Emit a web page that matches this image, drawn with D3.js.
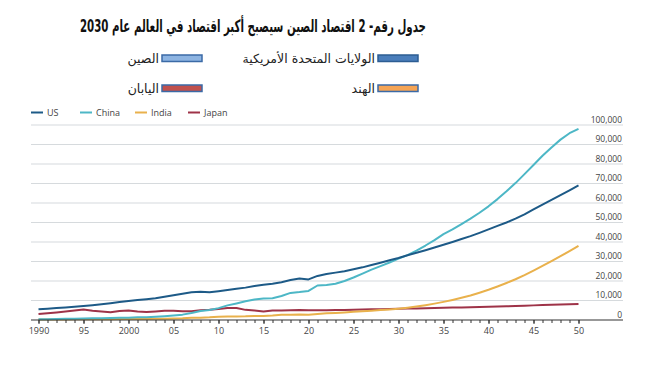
<!DOCTYPE html>
<html><head><meta charset="utf-8">
<script src="https://cdn.jsdelivr.net/npm/d3@7"></script>
<style>body{margin:0;background:#fff}svg{display:block}</style>
</head><body>
<svg id="c" width="655" height="368"></svg>
<script>
const years = d3.range(1990, 2051);
const us = [5500,5800,6100,6400,6800,7200,7600,8100,8600,9200,9800,10200,10600,11100,11900,12700,13500,14200,14500,14200,14800,15400,16000,16600,17400,18100,18600,19400,20500,21300,20800,22600,23600,24300,25000,26000,27000,28200,29400,30600,31800,33200,34500,35800,37200,38600,40000,41500,43000,44700,46500,48300,50000,52000,54200,56700,59200,61600,64000,66500,69000];
const china = [400,400,500,600,600,750,850,950,1000,1100,1200,1350,1450,1650,1950,2300,2750,3550,4600,5100,6100,7500,8500,9600,10500,11000,11200,12300,13900,14300,14900,17700,18000,18600,20000,21800,23800,25800,27600,29500,31500,33300,35600,38200,41000,44000,46500,49200,52000,55000,58300,62000,66000,70200,74800,79500,84200,88500,92500,95800,98000];
const india = [300,280,290,280,330,360,390,410,420,450,470,490,510,600,700,820,940,1200,1200,1350,1650,1800,1830,1860,2030,2100,2300,2650,2700,2850,2700,3100,3400,3600,3900,4200,4500,4800,5100,5400,5800,6300,6900,7600,8400,9300,10300,11400,12600,14000,15500,17200,19000,20900,23000,25300,27700,30200,32700,35300,38000];
const japan = [3100,3500,3900,4400,4900,5400,4800,4400,4000,4600,4900,4300,4100,4400,4800,4750,4500,4500,5000,5200,5700,6200,6200,5200,4900,4400,4900,4900,5000,5100,5000,5000,5050,5100,5150,5250,5350,5450,5550,5650,5750,5850,5950,6050,6150,6250,6350,6450,6550,6650,6750,6900,7050,7200,7350,7500,7650,7800,7950,8100,8250];
const seriesNames = ["US","China","India","Japan"];
const seriesColors = ["#1d5a87","#4db7c6","#e9b14c","#9e3348"];
const yTicks = [0,10000,20000,30000,40000,50000,60000,70000,80000,90000,100000];
const xTickYears = [1990,1995,2000,2005,2010,2015,2020,2025,2030,2035,2040,2045,2050];
const xTickLabels = ["1990","95","2000","05","10","15","20","25","30","35","40","45","50"];
const titleText = "جدول رقم- 2 اقتصاد الصين سيصبح أكبر اقتصاد في العالم عام 2030";
const arLegend = [
  {name:"الولايات المتحدة الأمريكية", fill:"#4a7ebb", stroke:"#2c5d93", col:1, row:0},
  {name:"الصين", fill:"#8db4e2", stroke:"#3b6aa6", col:0, row:0},
  {name:"الهند", fill:"#f5a455", stroke:"#3b6aa6", col:1, row:1},
  {name:"اليابان", fill:"#c0504d", stroke:"#3b6aa6", col:0, row:1}
];

const svg = d3.select("#c");
const x = d3.scaleLinear().domain([1990,2050]).range([38.5,578.5]);
const y = d3.scaleLinear().domain([0,100000]).range([320,125]);

// title
svg.append("text").attr("x",80).attr("y",32).attr("text-anchor","start")
  .attr("textLength",346).attr("lengthAdjust","spacingAndGlyphs")
  .style("font-family","'DejaVu Sans', sans-serif").style("font-weight","bold")
  .style("font-size","17px").attr("fill","#111")
  .text("\u202B" + titleText + "\u202C");

// Arabic legend
const colX = [202, 418];
const rowY = [55, 85];
arLegend.forEach(d=>{
  const bx = colX[d.col];
  svg.append("rect").attr("x",bx-40).attr("y",rowY[d.row]).attr("width",40).attr("height",6.5)
    .attr("fill",d.fill).attr("stroke",d.stroke).attr("stroke-width",1.5);
  svg.append("text").attr("x",bx-43).attr("y",rowY[d.row]+8).attr("text-anchor","end")
    .style("font-family","'DejaVu Sans', sans-serif").style("font-size","12.5px").attr("fill","#222")
    .text(d.name);
});

// English legend
const legX = [31,80,135,188];
seriesNames.forEach((n,i)=>{
  svg.append("line").attr("x1",legX[i]).attr("x2",legX[i]+12).attr("y1",112.5).attr("y2",112.5)
    .attr("stroke",seriesColors[i]).attr("stroke-width",2);
  svg.append("text").attr("x",legX[i]+16).attr("y",115.5)
    .style("font-family","'Open Sans', sans-serif").style("font-size","9px").attr("fill","#444").text(n);
});

// grid
const yAxis = d3.axisRight(y).tickValues(yTicks).tickSize(0).tickFormat(d3.format(","));
const gy = svg.append("g").attr("transform","translate(622,0)").call(yAxis);
gy.select(".domain").remove();
gy.selectAll("text").attr("x",0).attr("dy","-0.35em").attr("text-anchor","end")
  .style("font-family","'Open Sans', sans-serif").style("font-size","8.5px").attr("fill","#444");
svg.insert("g",":first-child").selectAll("line").data(yTicks.filter(v=>v>0)).join("line")
  .attr("x1",31).attr("x2",623).attr("y1",d=>y(d)).attr("y2",d=>y(d))
  .attr("stroke","#d6dadd").attr("stroke-width",1.2);

// lines
const allSeries = [us, china, india, japan];
const line = d3.line().x((d,i)=>x(years[i])).y(d=>y(d));
[3,2,1,0].forEach(k=>{
  svg.append("path").datum(allSeries[k]).attr("d",line).attr("fill","none")
    .attr("stroke",seriesColors[k]).attr("stroke-width",2).attr("stroke-linejoin","round");
});

// x axis
const xMinor = d3.axisBottom(x).tickValues(years).tickSize(3).tickFormat("");
const gx1 = svg.append("g").attr("transform","translate(0,320)").call(xMinor);
gx1.select(".domain").remove();
gx1.selectAll("line").attr("stroke","#333");
svg.append("line").attr("x1",31).attr("x2",623).attr("y1",320).attr("y2",320).attr("stroke","#333").attr("stroke-width",1.2);
const xAxis = d3.axisBottom(x).tickValues(xTickYears).tickSize(4).tickFormat((d,i)=>xTickLabels[i]);
const gx = svg.append("g").attr("transform","translate(0,320)").call(xAxis);
gx.select(".domain").remove();
gx.selectAll("line").attr("stroke","#333");
gx.selectAll("text").attr("y",8).style("font-family","'Open Sans', sans-serif").style("font-size","9px").attr("fill","#444");
</script>
</body></html>
